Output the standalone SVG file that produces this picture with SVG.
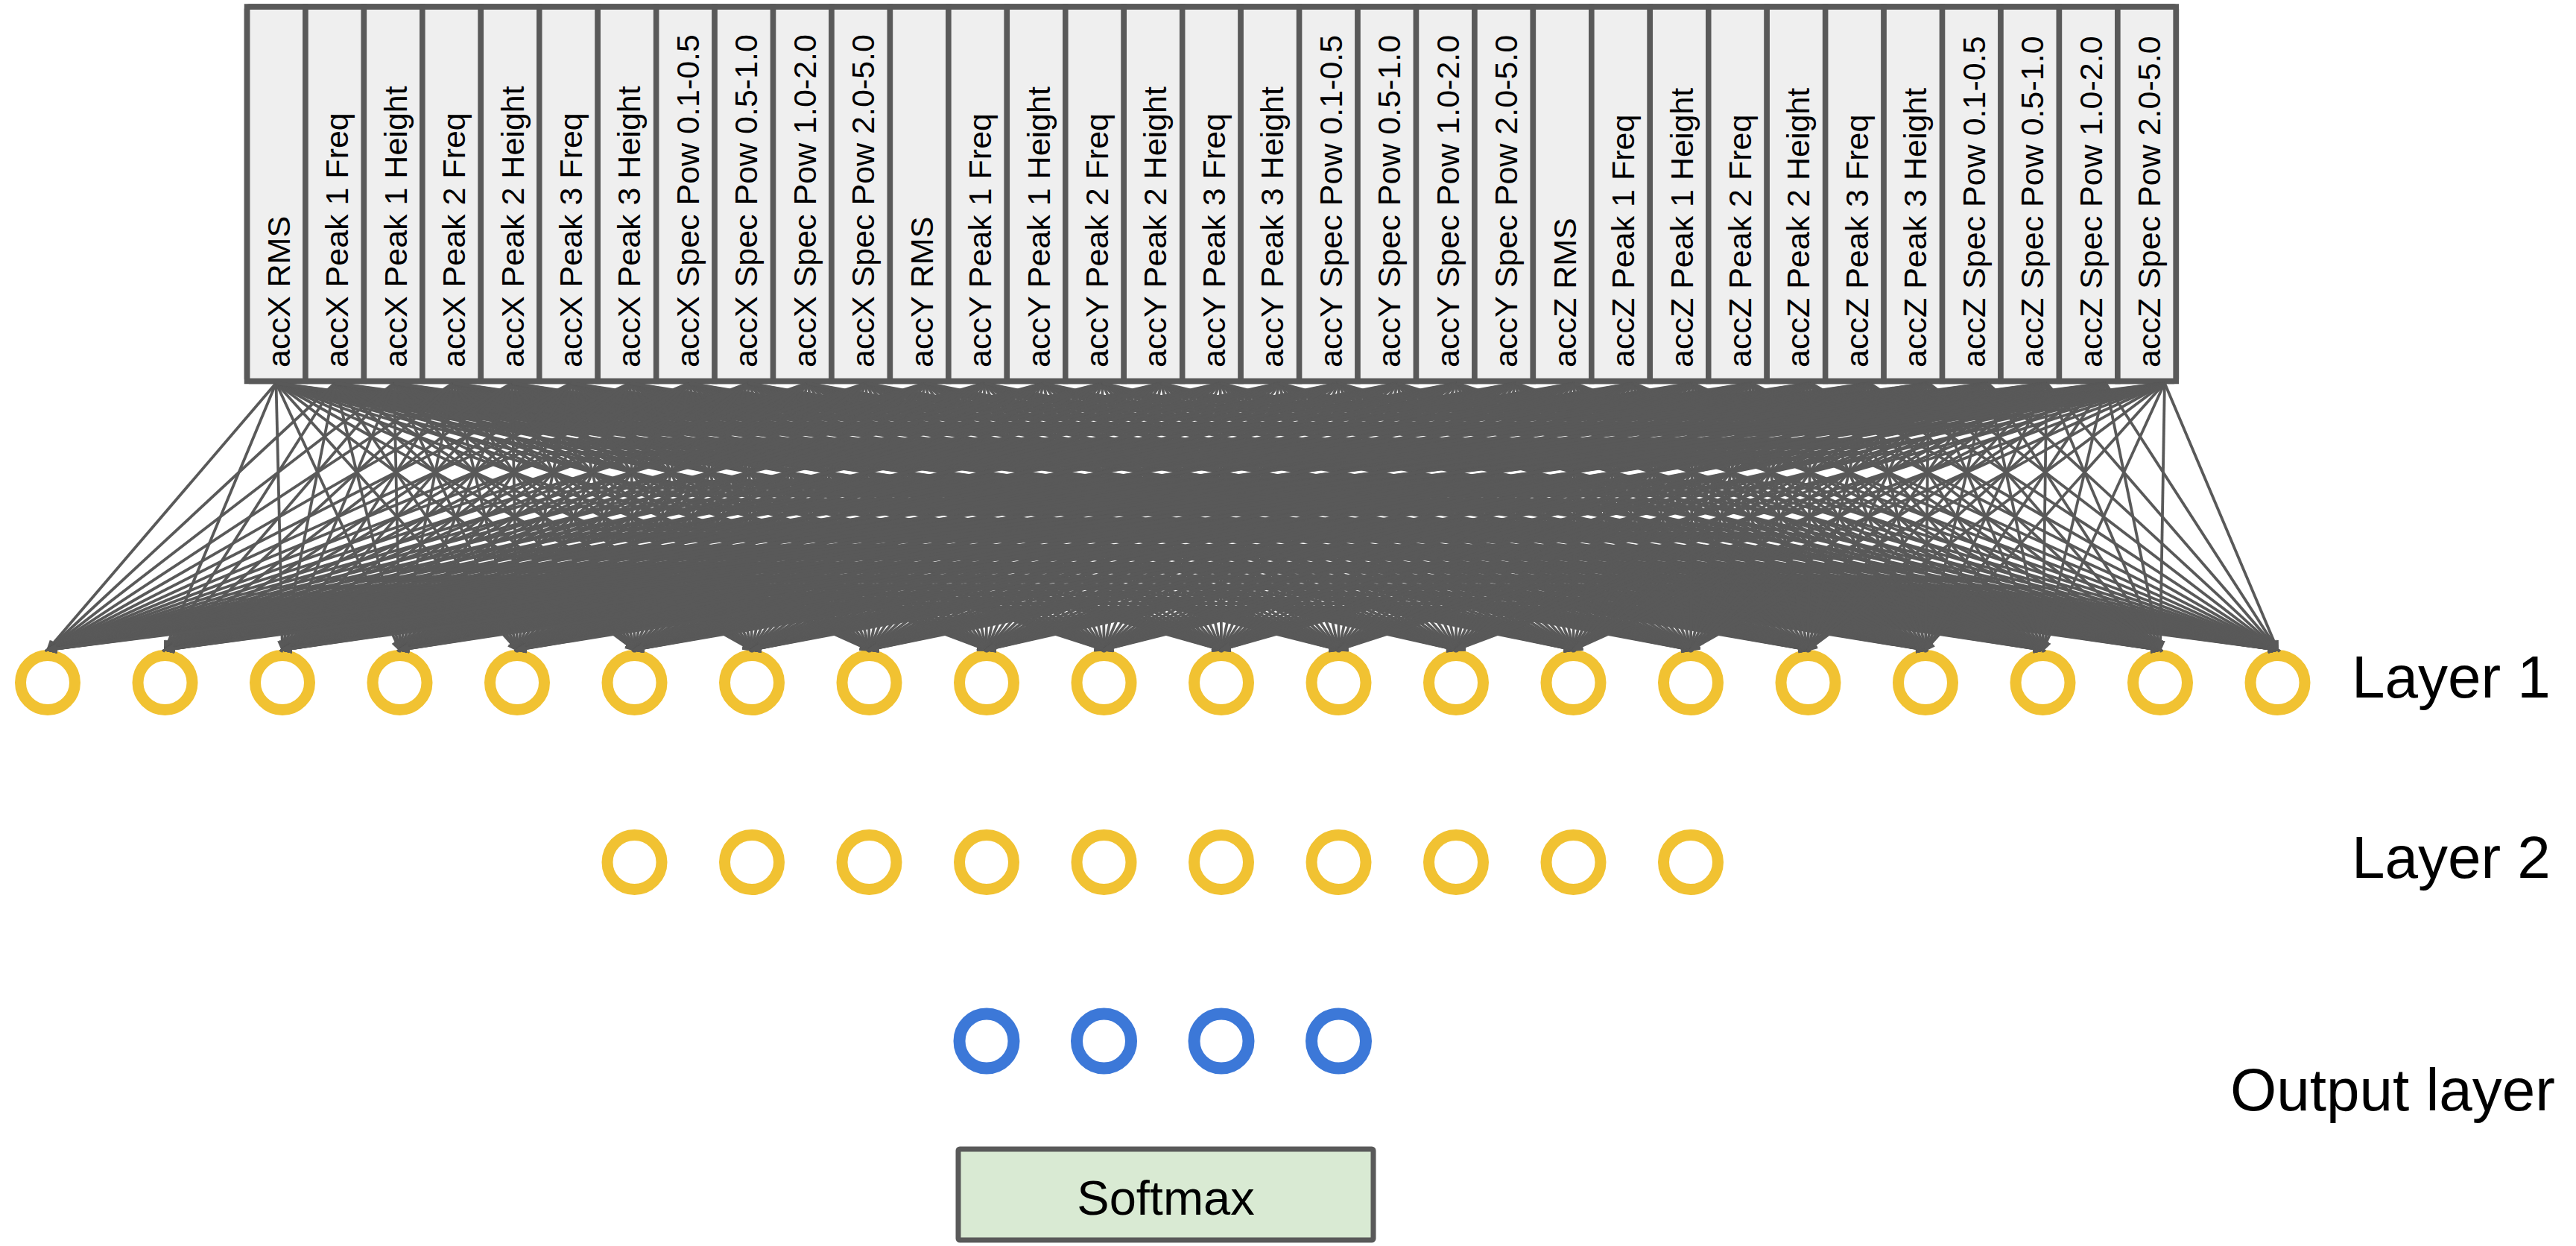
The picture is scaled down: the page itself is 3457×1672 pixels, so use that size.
<svg xmlns="http://www.w3.org/2000/svg" width="3457" height="1672" viewBox="0 0 3457 1672">
<defs>
<style>
.cell{fill:#efefef;stroke:#595959;stroke-width:7.5}
.ct{font-family:"Liberation Sans",Arial,sans-serif;font-size:43px;fill:#000}
.lbl{font-family:"Liberation Sans",Arial,sans-serif;font-size:80px;fill:#000}
.y{fill:none;stroke:#f1c232;stroke-width:15}
.b{fill:none;stroke:#3c78d8;stroke-width:16}
#conn path{fill:none;stroke:#595959;stroke-width:3.8;marker-end:url(#ah)}
</style>
<marker id="ah" markerUnits="userSpaceOnUse" markerWidth="17" markerHeight="14" refX="12" refY="6.5" orient="auto"><path d="M0 0L16 6.5L0 13z" fill="#595959"/></marker>
</defs>
<rect width="3457" height="1672" fill="#fff"/>
<g id="inputs">
<g id="in0"><rect class="cell" x="331.5" y="9" width="78.45" height="502.5"/><text class="ct" transform="translate(388.7,493) rotate(-90)">accX RMS</text></g>
<g id="in1"><rect class="cell" x="409.95" y="9" width="78.45" height="502.5"/><text class="ct" transform="translate(467.15,493) rotate(-90)">accX Peak 1 Freq</text></g>
<g id="in2"><rect class="cell" x="488.4" y="9" width="78.45" height="502.5"/><text class="ct" transform="translate(545.6,493) rotate(-90)">accX Peak 1 Height</text></g>
<g id="in3"><rect class="cell" x="566.85" y="9" width="78.45" height="502.5"/><text class="ct" transform="translate(624.05,493) rotate(-90)">accX Peak 2 Freq</text></g>
<g id="in4"><rect class="cell" x="645.3" y="9" width="78.45" height="502.5"/><text class="ct" transform="translate(702.5,493) rotate(-90)">accX Peak 2 Height</text></g>
<g id="in5"><rect class="cell" x="723.75" y="9" width="78.45" height="502.5"/><text class="ct" transform="translate(780.95,493) rotate(-90)">accX Peak 3 Freq</text></g>
<g id="in6"><rect class="cell" x="802.2" y="9" width="78.45" height="502.5"/><text class="ct" transform="translate(859.4,493) rotate(-90)">accX Peak 3 Height</text></g>
<g id="in7"><rect class="cell" x="880.65" y="9" width="78.45" height="502.5"/><text class="ct" transform="translate(937.85,493) rotate(-90)">accX Spec Pow 0.1-0.5</text></g>
<g id="in8"><rect class="cell" x="959.1" y="9" width="78.45" height="502.5"/><text class="ct" transform="translate(1016.3,493) rotate(-90)">accX Spec Pow 0.5-1.0</text></g>
<g id="in9"><rect class="cell" x="1037.55" y="9" width="78.45" height="502.5"/><text class="ct" transform="translate(1094.75,493) rotate(-90)">accX Spec Pow 1.0-2.0</text></g>
<g id="in10"><rect class="cell" x="1116" y="9" width="78.45" height="502.5"/><text class="ct" transform="translate(1173.2,493) rotate(-90)">accX Spec Pow 2.0-5.0</text></g>
<g id="in11"><rect class="cell" x="1194.45" y="9" width="78.45" height="502.5"/><text class="ct" transform="translate(1251.65,493) rotate(-90)">accY RMS</text></g>
<g id="in12"><rect class="cell" x="1272.9" y="9" width="78.45" height="502.5"/><text class="ct" transform="translate(1330.1,493) rotate(-90)">accY Peak 1 Freq</text></g>
<g id="in13"><rect class="cell" x="1351.35" y="9" width="78.45" height="502.5"/><text class="ct" transform="translate(1408.55,493) rotate(-90)">accY Peak 1 Height</text></g>
<g id="in14"><rect class="cell" x="1429.8" y="9" width="78.45" height="502.5"/><text class="ct" transform="translate(1487,493) rotate(-90)">accY Peak 2 Freq</text></g>
<g id="in15"><rect class="cell" x="1508.25" y="9" width="78.45" height="502.5"/><text class="ct" transform="translate(1565.45,493) rotate(-90)">accY Peak 2 Height</text></g>
<g id="in16"><rect class="cell" x="1586.7" y="9" width="78.45" height="502.5"/><text class="ct" transform="translate(1643.9,493) rotate(-90)">accY Peak 3 Freq</text></g>
<g id="in17"><rect class="cell" x="1665.15" y="9" width="78.45" height="502.5"/><text class="ct" transform="translate(1722.35,493) rotate(-90)">accY Peak 3 Height</text></g>
<g id="in18"><rect class="cell" x="1743.6" y="9" width="78.45" height="502.5"/><text class="ct" transform="translate(1800.8,493) rotate(-90)">accY Spec Pow 0.1-0.5</text></g>
<g id="in19"><rect class="cell" x="1822.05" y="9" width="78.45" height="502.5"/><text class="ct" transform="translate(1879.25,493) rotate(-90)">accY Spec Pow 0.5-1.0</text></g>
<g id="in20"><rect class="cell" x="1900.5" y="9" width="78.45" height="502.5"/><text class="ct" transform="translate(1957.7,493) rotate(-90)">accY Spec Pow 1.0-2.0</text></g>
<g id="in21"><rect class="cell" x="1978.95" y="9" width="78.45" height="502.5"/><text class="ct" transform="translate(2036.15,493) rotate(-90)">accY Spec Pow 2.0-5.0</text></g>
<g id="in22"><rect class="cell" x="2057.4" y="9" width="78.45" height="502.5"/><text class="ct" transform="translate(2114.6,493) rotate(-90)">accZ RMS</text></g>
<g id="in23"><rect class="cell" x="2135.85" y="9" width="78.45" height="502.5"/><text class="ct" transform="translate(2193.05,493) rotate(-90)">accZ Peak 1 Freq</text></g>
<g id="in24"><rect class="cell" x="2214.3" y="9" width="78.45" height="502.5"/><text class="ct" transform="translate(2271.5,493) rotate(-90)">accZ Peak 1 Height</text></g>
<g id="in25"><rect class="cell" x="2292.75" y="9" width="78.45" height="502.5"/><text class="ct" transform="translate(2349.95,493) rotate(-90)">accZ Peak 2 Freq</text></g>
<g id="in26"><rect class="cell" x="2371.2" y="9" width="78.45" height="502.5"/><text class="ct" transform="translate(2428.4,493) rotate(-90)">accZ Peak 2 Height</text></g>
<g id="in27"><rect class="cell" x="2449.65" y="9" width="78.45" height="502.5"/><text class="ct" transform="translate(2506.85,493) rotate(-90)">accZ Peak 3 Freq</text></g>
<g id="in28"><rect class="cell" x="2528.1" y="9" width="78.45" height="502.5"/><text class="ct" transform="translate(2585.3,493) rotate(-90)">accZ Peak 3 Height</text></g>
<g id="in29"><rect class="cell" x="2606.55" y="9" width="78.45" height="502.5"/><text class="ct" transform="translate(2663.75,493) rotate(-90)">accZ Spec Pow 0.1-0.5</text></g>
<g id="in30"><rect class="cell" x="2685" y="9" width="78.45" height="502.5"/><text class="ct" transform="translate(2742.2,493) rotate(-90)">accZ Spec Pow 0.5-1.0</text></g>
<g id="in31"><rect class="cell" x="2763.45" y="9" width="78.45" height="502.5"/><text class="ct" transform="translate(2820.65,493) rotate(-90)">accZ Spec Pow 1.0-2.0</text></g>
<g id="in32"><rect class="cell" x="2841.9" y="9" width="78.45" height="502.5"/><text class="ct" transform="translate(2899.1,493) rotate(-90)">accZ Spec Pow 2.0-5.0</text></g>
<rect x="331.5" y="9" width="2588.85" height="502.5" rx="3" fill="none" stroke="#595959" stroke-width="7.5"/>
</g>
<g id="layer1">
<circle id="h1_0" class="y" cx="64" cy="916" r="36.5"/>
<circle id="h1_1" class="y" cx="221.5" cy="916" r="36.5"/>
<circle id="h1_2" class="y" cx="379" cy="916" r="36.5"/>
<circle id="h1_3" class="y" cx="536.5" cy="916" r="36.5"/>
<circle id="h1_4" class="y" cx="694" cy="916" r="36.5"/>
<circle id="h1_5" class="y" cx="851.5" cy="916" r="36.5"/>
<circle id="h1_6" class="y" cx="1009" cy="916" r="36.5"/>
<circle id="h1_7" class="y" cx="1166.5" cy="916" r="36.5"/>
<circle id="h1_8" class="y" cx="1324" cy="916" r="36.5"/>
<circle id="h1_9" class="y" cx="1481.5" cy="916" r="36.5"/>
<circle id="h1_10" class="y" cx="1639" cy="916" r="36.5"/>
<circle id="h1_11" class="y" cx="1796.5" cy="916" r="36.5"/>
<circle id="h1_12" class="y" cx="1954" cy="916" r="36.5"/>
<circle id="h1_13" class="y" cx="2111.5" cy="916" r="36.5"/>
<circle id="h1_14" class="y" cx="2269" cy="916" r="36.5"/>
<circle id="h1_15" class="y" cx="2426.5" cy="916" r="36.5"/>
<circle id="h1_16" class="y" cx="2584" cy="916" r="36.5"/>
<circle id="h1_17" class="y" cx="2741.5" cy="916" r="36.5"/>
<circle id="h1_18" class="y" cx="2899" cy="916" r="36.5"/>
<circle id="h1_19" class="y" cx="3056.5" cy="916" r="36.5"/>
</g>
<g id="layer2">
<circle id="h2_0" class="y" cx="851.5" cy="1157" r="36.5"/>
<circle id="h2_1" class="y" cx="1009" cy="1157" r="36.5"/>
<circle id="h2_2" class="y" cx="1166.5" cy="1157" r="36.5"/>
<circle id="h2_3" class="y" cx="1324" cy="1157" r="36.5"/>
<circle id="h2_4" class="y" cx="1481.5" cy="1157" r="36.5"/>
<circle id="h2_5" class="y" cx="1639" cy="1157" r="36.5"/>
<circle id="h2_6" class="y" cx="1796.5" cy="1157" r="36.5"/>
<circle id="h2_7" class="y" cx="1954" cy="1157" r="36.5"/>
<circle id="h2_8" class="y" cx="2111.5" cy="1157" r="36.5"/>
<circle id="h2_9" class="y" cx="2269" cy="1157" r="36.5"/>
</g>
<g id="output">
<circle id="o_0" class="b" cx="1324" cy="1397" r="36.5"/>
<circle id="o_1" class="b" cx="1481.5" cy="1397" r="36.5"/>
<circle id="o_2" class="b" cx="1639" cy="1397" r="36.5"/>
<circle id="o_3" class="b" cx="1796.5" cy="1397" r="36.5"/>
</g>
<g id="softmax">
<rect x="1286" y="1542" width="557" height="122" rx="2" fill="#d9ead3" stroke="#595959" stroke-width="7"/>
<text x="1564.5" y="1630" text-anchor="middle" font-family="Liberation Sans, Arial, sans-serif" font-size="65">Softmax</text>
</g>
<g id="labels">
<text class="lbl" x="3156" y="936">Layer 1</text>
<text class="lbl" x="3156" y="1178">Layer 2</text>
<text class="lbl" x="2993" y="1490">Output layer</text>
</g>
<g id="conn">
<path d="M370.5 514L64 872"/><path d="M370.5 514L221.5 872"/><path d="M370.5 514L379 872"/><path d="M370.5 514L536.5 872"/><path d="M370.5 514L694 872"/><path d="M370.5 514L851.5 872"/><path d="M370.5 514L1009 872"/><path d="M370.5 514L1166.5 872"/><path d="M370.5 514L1324 872"/><path d="M370.5 514L1481.5 872"/><path d="M370.5 514L1639 872"/><path d="M370.5 514L1796.5 872"/><path d="M370.5 514L1954 872"/><path d="M370.5 514L2111.5 872"/><path d="M370.5 514L2269 872"/><path d="M370.5 514L2426.5 872"/><path d="M370.5 514L2584 872"/><path d="M370.5 514L2741.5 872"/><path d="M370.5 514L2899 872"/><path d="M370.5 514L3056.5 872"/>
<path d="M449.7 514L64 872"/><path d="M449.7 514L221.5 872"/><path d="M449.7 514L379 872"/><path d="M449.7 514L536.5 872"/><path d="M449.7 514L694 872"/><path d="M449.7 514L851.5 872"/><path d="M449.7 514L1009 872"/><path d="M449.7 514L1166.5 872"/><path d="M449.7 514L1324 872"/><path d="M449.7 514L1481.5 872"/><path d="M449.7 514L1639 872"/><path d="M449.7 514L1796.5 872"/><path d="M449.7 514L1954 872"/><path d="M449.7 514L2111.5 872"/><path d="M449.7 514L2269 872"/><path d="M449.7 514L2426.5 872"/><path d="M449.7 514L2584 872"/><path d="M449.7 514L2741.5 872"/><path d="M449.7 514L2899 872"/><path d="M449.7 514L3056.5 872"/>
<path d="M528.9 514L64 872"/><path d="M528.9 514L221.5 872"/><path d="M528.9 514L379 872"/><path d="M528.9 514L536.5 872"/><path d="M528.9 514L694 872"/><path d="M528.9 514L851.5 872"/><path d="M528.9 514L1009 872"/><path d="M528.9 514L1166.5 872"/><path d="M528.9 514L1324 872"/><path d="M528.9 514L1481.5 872"/><path d="M528.9 514L1639 872"/><path d="M528.9 514L1796.5 872"/><path d="M528.9 514L1954 872"/><path d="M528.9 514L2111.5 872"/><path d="M528.9 514L2269 872"/><path d="M528.9 514L2426.5 872"/><path d="M528.9 514L2584 872"/><path d="M528.9 514L2741.5 872"/><path d="M528.9 514L2899 872"/><path d="M528.9 514L3056.5 872"/>
<path d="M608.1 514L64 872"/><path d="M608.1 514L221.5 872"/><path d="M608.1 514L379 872"/><path d="M608.1 514L536.5 872"/><path d="M608.1 514L694 872"/><path d="M608.1 514L851.5 872"/><path d="M608.1 514L1009 872"/><path d="M608.1 514L1166.5 872"/><path d="M608.1 514L1324 872"/><path d="M608.1 514L1481.5 872"/><path d="M608.1 514L1639 872"/><path d="M608.1 514L1796.5 872"/><path d="M608.1 514L1954 872"/><path d="M608.1 514L2111.5 872"/><path d="M608.1 514L2269 872"/><path d="M608.1 514L2426.5 872"/><path d="M608.1 514L2584 872"/><path d="M608.1 514L2741.5 872"/><path d="M608.1 514L2899 872"/><path d="M608.1 514L3056.5 872"/>
<path d="M687.3 514L64 872"/><path d="M687.3 514L221.5 872"/><path d="M687.3 514L379 872"/><path d="M687.3 514L536.5 872"/><path d="M687.3 514L694 872"/><path d="M687.3 514L851.5 872"/><path d="M687.3 514L1009 872"/><path d="M687.3 514L1166.5 872"/><path d="M687.3 514L1324 872"/><path d="M687.3 514L1481.5 872"/><path d="M687.3 514L1639 872"/><path d="M687.3 514L1796.5 872"/><path d="M687.3 514L1954 872"/><path d="M687.3 514L2111.5 872"/><path d="M687.3 514L2269 872"/><path d="M687.3 514L2426.5 872"/><path d="M687.3 514L2584 872"/><path d="M687.3 514L2741.5 872"/><path d="M687.3 514L2899 872"/><path d="M687.3 514L3056.5 872"/>
<path d="M766.5 514L64 872"/><path d="M766.5 514L221.5 872"/><path d="M766.5 514L379 872"/><path d="M766.5 514L536.5 872"/><path d="M766.5 514L694 872"/><path d="M766.5 514L851.5 872"/><path d="M766.5 514L1009 872"/><path d="M766.5 514L1166.5 872"/><path d="M766.5 514L1324 872"/><path d="M766.5 514L1481.5 872"/><path d="M766.5 514L1639 872"/><path d="M766.5 514L1796.5 872"/><path d="M766.5 514L1954 872"/><path d="M766.5 514L2111.5 872"/><path d="M766.5 514L2269 872"/><path d="M766.5 514L2426.5 872"/><path d="M766.5 514L2584 872"/><path d="M766.5 514L2741.5 872"/><path d="M766.5 514L2899 872"/><path d="M766.5 514L3056.5 872"/>
<path d="M845.7 514L64 872"/><path d="M845.7 514L221.5 872"/><path d="M845.7 514L379 872"/><path d="M845.7 514L536.5 872"/><path d="M845.7 514L694 872"/><path d="M845.7 514L851.5 872"/><path d="M845.7 514L1009 872"/><path d="M845.7 514L1166.5 872"/><path d="M845.7 514L1324 872"/><path d="M845.7 514L1481.5 872"/><path d="M845.7 514L1639 872"/><path d="M845.7 514L1796.5 872"/><path d="M845.7 514L1954 872"/><path d="M845.7 514L2111.5 872"/><path d="M845.7 514L2269 872"/><path d="M845.7 514L2426.5 872"/><path d="M845.7 514L2584 872"/><path d="M845.7 514L2741.5 872"/><path d="M845.7 514L2899 872"/><path d="M845.7 514L3056.5 872"/>
<path d="M924.9 514L64 872"/><path d="M924.9 514L221.5 872"/><path d="M924.9 514L379 872"/><path d="M924.9 514L536.5 872"/><path d="M924.9 514L694 872"/><path d="M924.9 514L851.5 872"/><path d="M924.9 514L1009 872"/><path d="M924.9 514L1166.5 872"/><path d="M924.9 514L1324 872"/><path d="M924.9 514L1481.5 872"/><path d="M924.9 514L1639 872"/><path d="M924.9 514L1796.5 872"/><path d="M924.9 514L1954 872"/><path d="M924.9 514L2111.5 872"/><path d="M924.9 514L2269 872"/><path d="M924.9 514L2426.5 872"/><path d="M924.9 514L2584 872"/><path d="M924.9 514L2741.5 872"/><path d="M924.9 514L2899 872"/><path d="M924.9 514L3056.5 872"/>
<path d="M1004.1 514L64 872"/><path d="M1004.1 514L221.5 872"/><path d="M1004.1 514L379 872"/><path d="M1004.1 514L536.5 872"/><path d="M1004.1 514L694 872"/><path d="M1004.1 514L851.5 872"/><path d="M1004.1 514L1009 872"/><path d="M1004.1 514L1166.5 872"/><path d="M1004.1 514L1324 872"/><path d="M1004.1 514L1481.5 872"/><path d="M1004.1 514L1639 872"/><path d="M1004.1 514L1796.5 872"/><path d="M1004.1 514L1954 872"/><path d="M1004.1 514L2111.5 872"/><path d="M1004.1 514L2269 872"/><path d="M1004.1 514L2426.5 872"/><path d="M1004.1 514L2584 872"/><path d="M1004.1 514L2741.5 872"/><path d="M1004.1 514L2899 872"/><path d="M1004.1 514L3056.5 872"/>
<path d="M1083.3 514L64 872"/><path d="M1083.3 514L221.5 872"/><path d="M1083.3 514L379 872"/><path d="M1083.3 514L536.5 872"/><path d="M1083.3 514L694 872"/><path d="M1083.3 514L851.5 872"/><path d="M1083.3 514L1009 872"/><path d="M1083.3 514L1166.5 872"/><path d="M1083.3 514L1324 872"/><path d="M1083.3 514L1481.5 872"/><path d="M1083.3 514L1639 872"/><path d="M1083.3 514L1796.5 872"/><path d="M1083.3 514L1954 872"/><path d="M1083.3 514L2111.5 872"/><path d="M1083.3 514L2269 872"/><path d="M1083.3 514L2426.5 872"/><path d="M1083.3 514L2584 872"/><path d="M1083.3 514L2741.5 872"/><path d="M1083.3 514L2899 872"/><path d="M1083.3 514L3056.5 872"/>
<path d="M1162.5 514L64 872"/><path d="M1162.5 514L221.5 872"/><path d="M1162.5 514L379 872"/><path d="M1162.5 514L536.5 872"/><path d="M1162.5 514L694 872"/><path d="M1162.5 514L851.5 872"/><path d="M1162.5 514L1009 872"/><path d="M1162.5 514L1166.5 872"/><path d="M1162.5 514L1324 872"/><path d="M1162.5 514L1481.5 872"/><path d="M1162.5 514L1639 872"/><path d="M1162.5 514L1796.5 872"/><path d="M1162.5 514L1954 872"/><path d="M1162.5 514L2111.5 872"/><path d="M1162.5 514L2269 872"/><path d="M1162.5 514L2426.5 872"/><path d="M1162.5 514L2584 872"/><path d="M1162.5 514L2741.5 872"/><path d="M1162.5 514L2899 872"/><path d="M1162.5 514L3056.5 872"/>
<path d="M1241.7 514L64 872"/><path d="M1241.7 514L221.5 872"/><path d="M1241.7 514L379 872"/><path d="M1241.7 514L536.5 872"/><path d="M1241.7 514L694 872"/><path d="M1241.7 514L851.5 872"/><path d="M1241.7 514L1009 872"/><path d="M1241.7 514L1166.5 872"/><path d="M1241.7 514L1324 872"/><path d="M1241.7 514L1481.5 872"/><path d="M1241.7 514L1639 872"/><path d="M1241.7 514L1796.5 872"/><path d="M1241.7 514L1954 872"/><path d="M1241.7 514L2111.5 872"/><path d="M1241.7 514L2269 872"/><path d="M1241.7 514L2426.5 872"/><path d="M1241.7 514L2584 872"/><path d="M1241.7 514L2741.5 872"/><path d="M1241.7 514L2899 872"/><path d="M1241.7 514L3056.5 872"/>
<path d="M1320.9 514L64 872"/><path d="M1320.9 514L221.5 872"/><path d="M1320.9 514L379 872"/><path d="M1320.9 514L536.5 872"/><path d="M1320.9 514L694 872"/><path d="M1320.9 514L851.5 872"/><path d="M1320.9 514L1009 872"/><path d="M1320.9 514L1166.5 872"/><path d="M1320.9 514L1324 872"/><path d="M1320.9 514L1481.5 872"/><path d="M1320.9 514L1639 872"/><path d="M1320.9 514L1796.5 872"/><path d="M1320.9 514L1954 872"/><path d="M1320.9 514L2111.5 872"/><path d="M1320.9 514L2269 872"/><path d="M1320.9 514L2426.5 872"/><path d="M1320.9 514L2584 872"/><path d="M1320.9 514L2741.5 872"/><path d="M1320.9 514L2899 872"/><path d="M1320.9 514L3056.5 872"/>
<path d="M1400.1 514L64 872"/><path d="M1400.1 514L221.5 872"/><path d="M1400.1 514L379 872"/><path d="M1400.1 514L536.5 872"/><path d="M1400.1 514L694 872"/><path d="M1400.1 514L851.5 872"/><path d="M1400.1 514L1009 872"/><path d="M1400.1 514L1166.5 872"/><path d="M1400.1 514L1324 872"/><path d="M1400.1 514L1481.5 872"/><path d="M1400.1 514L1639 872"/><path d="M1400.1 514L1796.5 872"/><path d="M1400.1 514L1954 872"/><path d="M1400.1 514L2111.5 872"/><path d="M1400.1 514L2269 872"/><path d="M1400.1 514L2426.5 872"/><path d="M1400.1 514L2584 872"/><path d="M1400.1 514L2741.5 872"/><path d="M1400.1 514L2899 872"/><path d="M1400.1 514L3056.5 872"/>
<path d="M1479.3 514L64 872"/><path d="M1479.3 514L221.5 872"/><path d="M1479.3 514L379 872"/><path d="M1479.3 514L536.5 872"/><path d="M1479.3 514L694 872"/><path d="M1479.3 514L851.5 872"/><path d="M1479.3 514L1009 872"/><path d="M1479.3 514L1166.5 872"/><path d="M1479.3 514L1324 872"/><path d="M1479.3 514L1481.5 872"/><path d="M1479.3 514L1639 872"/><path d="M1479.3 514L1796.5 872"/><path d="M1479.3 514L1954 872"/><path d="M1479.3 514L2111.5 872"/><path d="M1479.3 514L2269 872"/><path d="M1479.3 514L2426.5 872"/><path d="M1479.3 514L2584 872"/><path d="M1479.3 514L2741.5 872"/><path d="M1479.3 514L2899 872"/><path d="M1479.3 514L3056.5 872"/>
<path d="M1558.5 514L64 872"/><path d="M1558.5 514L221.5 872"/><path d="M1558.5 514L379 872"/><path d="M1558.5 514L536.5 872"/><path d="M1558.5 514L694 872"/><path d="M1558.5 514L851.5 872"/><path d="M1558.5 514L1009 872"/><path d="M1558.5 514L1166.5 872"/><path d="M1558.5 514L1324 872"/><path d="M1558.5 514L1481.5 872"/><path d="M1558.5 514L1639 872"/><path d="M1558.5 514L1796.5 872"/><path d="M1558.5 514L1954 872"/><path d="M1558.5 514L2111.5 872"/><path d="M1558.5 514L2269 872"/><path d="M1558.5 514L2426.5 872"/><path d="M1558.5 514L2584 872"/><path d="M1558.5 514L2741.5 872"/><path d="M1558.5 514L2899 872"/><path d="M1558.5 514L3056.5 872"/>
<path d="M1637.7 514L64 872"/><path d="M1637.7 514L221.5 872"/><path d="M1637.7 514L379 872"/><path d="M1637.7 514L536.5 872"/><path d="M1637.7 514L694 872"/><path d="M1637.7 514L851.5 872"/><path d="M1637.7 514L1009 872"/><path d="M1637.7 514L1166.5 872"/><path d="M1637.7 514L1324 872"/><path d="M1637.7 514L1481.5 872"/><path d="M1637.7 514L1639 872"/><path d="M1637.7 514L1796.5 872"/><path d="M1637.7 514L1954 872"/><path d="M1637.7 514L2111.5 872"/><path d="M1637.7 514L2269 872"/><path d="M1637.7 514L2426.5 872"/><path d="M1637.7 514L2584 872"/><path d="M1637.7 514L2741.5 872"/><path d="M1637.7 514L2899 872"/><path d="M1637.7 514L3056.5 872"/>
<path d="M1716.9 514L64 872"/><path d="M1716.9 514L221.5 872"/><path d="M1716.9 514L379 872"/><path d="M1716.9 514L536.5 872"/><path d="M1716.9 514L694 872"/><path d="M1716.9 514L851.5 872"/><path d="M1716.9 514L1009 872"/><path d="M1716.9 514L1166.5 872"/><path d="M1716.9 514L1324 872"/><path d="M1716.9 514L1481.5 872"/><path d="M1716.9 514L1639 872"/><path d="M1716.9 514L1796.5 872"/><path d="M1716.9 514L1954 872"/><path d="M1716.9 514L2111.5 872"/><path d="M1716.9 514L2269 872"/><path d="M1716.9 514L2426.5 872"/><path d="M1716.9 514L2584 872"/><path d="M1716.9 514L2741.5 872"/><path d="M1716.9 514L2899 872"/><path d="M1716.9 514L3056.5 872"/>
<path d="M1796.1 514L64 872"/><path d="M1796.1 514L221.5 872"/><path d="M1796.1 514L379 872"/><path d="M1796.1 514L536.5 872"/><path d="M1796.1 514L694 872"/><path d="M1796.1 514L851.5 872"/><path d="M1796.1 514L1009 872"/><path d="M1796.1 514L1166.5 872"/><path d="M1796.1 514L1324 872"/><path d="M1796.1 514L1481.5 872"/><path d="M1796.1 514L1639 872"/><path d="M1796.1 514L1796.5 872"/><path d="M1796.1 514L1954 872"/><path d="M1796.1 514L2111.5 872"/><path d="M1796.1 514L2269 872"/><path d="M1796.1 514L2426.5 872"/><path d="M1796.1 514L2584 872"/><path d="M1796.1 514L2741.5 872"/><path d="M1796.1 514L2899 872"/><path d="M1796.1 514L3056.5 872"/>
<path d="M1875.3 514L64 872"/><path d="M1875.3 514L221.5 872"/><path d="M1875.3 514L379 872"/><path d="M1875.3 514L536.5 872"/><path d="M1875.3 514L694 872"/><path d="M1875.3 514L851.5 872"/><path d="M1875.3 514L1009 872"/><path d="M1875.3 514L1166.5 872"/><path d="M1875.3 514L1324 872"/><path d="M1875.3 514L1481.5 872"/><path d="M1875.3 514L1639 872"/><path d="M1875.3 514L1796.5 872"/><path d="M1875.3 514L1954 872"/><path d="M1875.3 514L2111.5 872"/><path d="M1875.3 514L2269 872"/><path d="M1875.3 514L2426.5 872"/><path d="M1875.3 514L2584 872"/><path d="M1875.3 514L2741.5 872"/><path d="M1875.3 514L2899 872"/><path d="M1875.3 514L3056.5 872"/>
<path d="M1954.5 514L64 872"/><path d="M1954.5 514L221.5 872"/><path d="M1954.5 514L379 872"/><path d="M1954.5 514L536.5 872"/><path d="M1954.5 514L694 872"/><path d="M1954.5 514L851.5 872"/><path d="M1954.5 514L1009 872"/><path d="M1954.5 514L1166.5 872"/><path d="M1954.5 514L1324 872"/><path d="M1954.5 514L1481.5 872"/><path d="M1954.5 514L1639 872"/><path d="M1954.5 514L1796.5 872"/><path d="M1954.5 514L1954 872"/><path d="M1954.5 514L2111.5 872"/><path d="M1954.5 514L2269 872"/><path d="M1954.5 514L2426.5 872"/><path d="M1954.5 514L2584 872"/><path d="M1954.5 514L2741.5 872"/><path d="M1954.5 514L2899 872"/><path d="M1954.5 514L3056.5 872"/>
<path d="M2033.7 514L64 872"/><path d="M2033.7 514L221.5 872"/><path d="M2033.7 514L379 872"/><path d="M2033.7 514L536.5 872"/><path d="M2033.7 514L694 872"/><path d="M2033.7 514L851.5 872"/><path d="M2033.7 514L1009 872"/><path d="M2033.7 514L1166.5 872"/><path d="M2033.7 514L1324 872"/><path d="M2033.7 514L1481.5 872"/><path d="M2033.7 514L1639 872"/><path d="M2033.7 514L1796.5 872"/><path d="M2033.7 514L1954 872"/><path d="M2033.7 514L2111.5 872"/><path d="M2033.7 514L2269 872"/><path d="M2033.7 514L2426.5 872"/><path d="M2033.7 514L2584 872"/><path d="M2033.7 514L2741.5 872"/><path d="M2033.7 514L2899 872"/><path d="M2033.7 514L3056.5 872"/>
<path d="M2112.9 514L64 872"/><path d="M2112.9 514L221.5 872"/><path d="M2112.9 514L379 872"/><path d="M2112.9 514L536.5 872"/><path d="M2112.9 514L694 872"/><path d="M2112.9 514L851.5 872"/><path d="M2112.9 514L1009 872"/><path d="M2112.9 514L1166.5 872"/><path d="M2112.9 514L1324 872"/><path d="M2112.9 514L1481.5 872"/><path d="M2112.9 514L1639 872"/><path d="M2112.9 514L1796.5 872"/><path d="M2112.9 514L1954 872"/><path d="M2112.9 514L2111.5 872"/><path d="M2112.9 514L2269 872"/><path d="M2112.9 514L2426.5 872"/><path d="M2112.9 514L2584 872"/><path d="M2112.9 514L2741.5 872"/><path d="M2112.9 514L2899 872"/><path d="M2112.9 514L3056.5 872"/>
<path d="M2192.1 514L64 872"/><path d="M2192.1 514L221.5 872"/><path d="M2192.1 514L379 872"/><path d="M2192.1 514L536.5 872"/><path d="M2192.1 514L694 872"/><path d="M2192.1 514L851.5 872"/><path d="M2192.1 514L1009 872"/><path d="M2192.1 514L1166.5 872"/><path d="M2192.1 514L1324 872"/><path d="M2192.1 514L1481.5 872"/><path d="M2192.1 514L1639 872"/><path d="M2192.1 514L1796.5 872"/><path d="M2192.1 514L1954 872"/><path d="M2192.1 514L2111.5 872"/><path d="M2192.1 514L2269 872"/><path d="M2192.1 514L2426.5 872"/><path d="M2192.1 514L2584 872"/><path d="M2192.1 514L2741.5 872"/><path d="M2192.1 514L2899 872"/><path d="M2192.1 514L3056.5 872"/>
<path d="M2271.3 514L64 872"/><path d="M2271.3 514L221.5 872"/><path d="M2271.3 514L379 872"/><path d="M2271.3 514L536.5 872"/><path d="M2271.3 514L694 872"/><path d="M2271.3 514L851.5 872"/><path d="M2271.3 514L1009 872"/><path d="M2271.3 514L1166.5 872"/><path d="M2271.3 514L1324 872"/><path d="M2271.3 514L1481.5 872"/><path d="M2271.3 514L1639 872"/><path d="M2271.3 514L1796.5 872"/><path d="M2271.3 514L1954 872"/><path d="M2271.3 514L2111.5 872"/><path d="M2271.3 514L2269 872"/><path d="M2271.3 514L2426.5 872"/><path d="M2271.3 514L2584 872"/><path d="M2271.3 514L2741.5 872"/><path d="M2271.3 514L2899 872"/><path d="M2271.3 514L3056.5 872"/>
<path d="M2350.5 514L64 872"/><path d="M2350.5 514L221.5 872"/><path d="M2350.5 514L379 872"/><path d="M2350.5 514L536.5 872"/><path d="M2350.5 514L694 872"/><path d="M2350.5 514L851.5 872"/><path d="M2350.5 514L1009 872"/><path d="M2350.5 514L1166.5 872"/><path d="M2350.5 514L1324 872"/><path d="M2350.5 514L1481.5 872"/><path d="M2350.5 514L1639 872"/><path d="M2350.5 514L1796.5 872"/><path d="M2350.5 514L1954 872"/><path d="M2350.5 514L2111.5 872"/><path d="M2350.5 514L2269 872"/><path d="M2350.5 514L2426.5 872"/><path d="M2350.5 514L2584 872"/><path d="M2350.5 514L2741.5 872"/><path d="M2350.5 514L2899 872"/><path d="M2350.5 514L3056.5 872"/>
<path d="M2429.7 514L64 872"/><path d="M2429.7 514L221.5 872"/><path d="M2429.7 514L379 872"/><path d="M2429.7 514L536.5 872"/><path d="M2429.7 514L694 872"/><path d="M2429.7 514L851.5 872"/><path d="M2429.7 514L1009 872"/><path d="M2429.7 514L1166.5 872"/><path d="M2429.7 514L1324 872"/><path d="M2429.7 514L1481.5 872"/><path d="M2429.7 514L1639 872"/><path d="M2429.7 514L1796.5 872"/><path d="M2429.7 514L1954 872"/><path d="M2429.7 514L2111.5 872"/><path d="M2429.7 514L2269 872"/><path d="M2429.7 514L2426.5 872"/><path d="M2429.7 514L2584 872"/><path d="M2429.7 514L2741.5 872"/><path d="M2429.7 514L2899 872"/><path d="M2429.7 514L3056.5 872"/>
<path d="M2508.9 514L64 872"/><path d="M2508.9 514L221.5 872"/><path d="M2508.9 514L379 872"/><path d="M2508.9 514L536.5 872"/><path d="M2508.9 514L694 872"/><path d="M2508.9 514L851.5 872"/><path d="M2508.9 514L1009 872"/><path d="M2508.9 514L1166.5 872"/><path d="M2508.9 514L1324 872"/><path d="M2508.9 514L1481.5 872"/><path d="M2508.9 514L1639 872"/><path d="M2508.9 514L1796.5 872"/><path d="M2508.9 514L1954 872"/><path d="M2508.9 514L2111.5 872"/><path d="M2508.9 514L2269 872"/><path d="M2508.9 514L2426.5 872"/><path d="M2508.9 514L2584 872"/><path d="M2508.9 514L2741.5 872"/><path d="M2508.9 514L2899 872"/><path d="M2508.9 514L3056.5 872"/>
<path d="M2588.1 514L64 872"/><path d="M2588.1 514L221.5 872"/><path d="M2588.1 514L379 872"/><path d="M2588.1 514L536.5 872"/><path d="M2588.1 514L694 872"/><path d="M2588.1 514L851.5 872"/><path d="M2588.1 514L1009 872"/><path d="M2588.1 514L1166.5 872"/><path d="M2588.1 514L1324 872"/><path d="M2588.1 514L1481.5 872"/><path d="M2588.1 514L1639 872"/><path d="M2588.1 514L1796.5 872"/><path d="M2588.1 514L1954 872"/><path d="M2588.1 514L2111.5 872"/><path d="M2588.1 514L2269 872"/><path d="M2588.1 514L2426.5 872"/><path d="M2588.1 514L2584 872"/><path d="M2588.1 514L2741.5 872"/><path d="M2588.1 514L2899 872"/><path d="M2588.1 514L3056.5 872"/>
<path d="M2667.3 514L64 872"/><path d="M2667.3 514L221.5 872"/><path d="M2667.3 514L379 872"/><path d="M2667.3 514L536.5 872"/><path d="M2667.3 514L694 872"/><path d="M2667.3 514L851.5 872"/><path d="M2667.3 514L1009 872"/><path d="M2667.3 514L1166.5 872"/><path d="M2667.3 514L1324 872"/><path d="M2667.3 514L1481.5 872"/><path d="M2667.3 514L1639 872"/><path d="M2667.3 514L1796.5 872"/><path d="M2667.3 514L1954 872"/><path d="M2667.3 514L2111.5 872"/><path d="M2667.3 514L2269 872"/><path d="M2667.3 514L2426.5 872"/><path d="M2667.3 514L2584 872"/><path d="M2667.3 514L2741.5 872"/><path d="M2667.3 514L2899 872"/><path d="M2667.3 514L3056.5 872"/>
<path d="M2746.5 514L64 872"/><path d="M2746.5 514L221.5 872"/><path d="M2746.5 514L379 872"/><path d="M2746.5 514L536.5 872"/><path d="M2746.5 514L694 872"/><path d="M2746.5 514L851.5 872"/><path d="M2746.5 514L1009 872"/><path d="M2746.5 514L1166.5 872"/><path d="M2746.5 514L1324 872"/><path d="M2746.5 514L1481.5 872"/><path d="M2746.5 514L1639 872"/><path d="M2746.5 514L1796.5 872"/><path d="M2746.5 514L1954 872"/><path d="M2746.5 514L2111.5 872"/><path d="M2746.5 514L2269 872"/><path d="M2746.5 514L2426.5 872"/><path d="M2746.5 514L2584 872"/><path d="M2746.5 514L2741.5 872"/><path d="M2746.5 514L2899 872"/><path d="M2746.5 514L3056.5 872"/>
<path d="M2825.7 514L64 872"/><path d="M2825.7 514L221.5 872"/><path d="M2825.7 514L379 872"/><path d="M2825.7 514L536.5 872"/><path d="M2825.7 514L694 872"/><path d="M2825.7 514L851.5 872"/><path d="M2825.7 514L1009 872"/><path d="M2825.7 514L1166.5 872"/><path d="M2825.7 514L1324 872"/><path d="M2825.7 514L1481.5 872"/><path d="M2825.7 514L1639 872"/><path d="M2825.7 514L1796.5 872"/><path d="M2825.7 514L1954 872"/><path d="M2825.7 514L2111.5 872"/><path d="M2825.7 514L2269 872"/><path d="M2825.7 514L2426.5 872"/><path d="M2825.7 514L2584 872"/><path d="M2825.7 514L2741.5 872"/><path d="M2825.7 514L2899 872"/><path d="M2825.7 514L3056.5 872"/>
<path d="M2904.9 514L64 872"/><path d="M2904.9 514L221.5 872"/><path d="M2904.9 514L379 872"/><path d="M2904.9 514L536.5 872"/><path d="M2904.9 514L694 872"/><path d="M2904.9 514L851.5 872"/><path d="M2904.9 514L1009 872"/><path d="M2904.9 514L1166.5 872"/><path d="M2904.9 514L1324 872"/><path d="M2904.9 514L1481.5 872"/><path d="M2904.9 514L1639 872"/><path d="M2904.9 514L1796.5 872"/><path d="M2904.9 514L1954 872"/><path d="M2904.9 514L2111.5 872"/><path d="M2904.9 514L2269 872"/><path d="M2904.9 514L2426.5 872"/><path d="M2904.9 514L2584 872"/><path d="M2904.9 514L2741.5 872"/><path d="M2904.9 514L2899 872"/><path d="M2904.9 514L3056.5 872"/>
</g>
</svg>
